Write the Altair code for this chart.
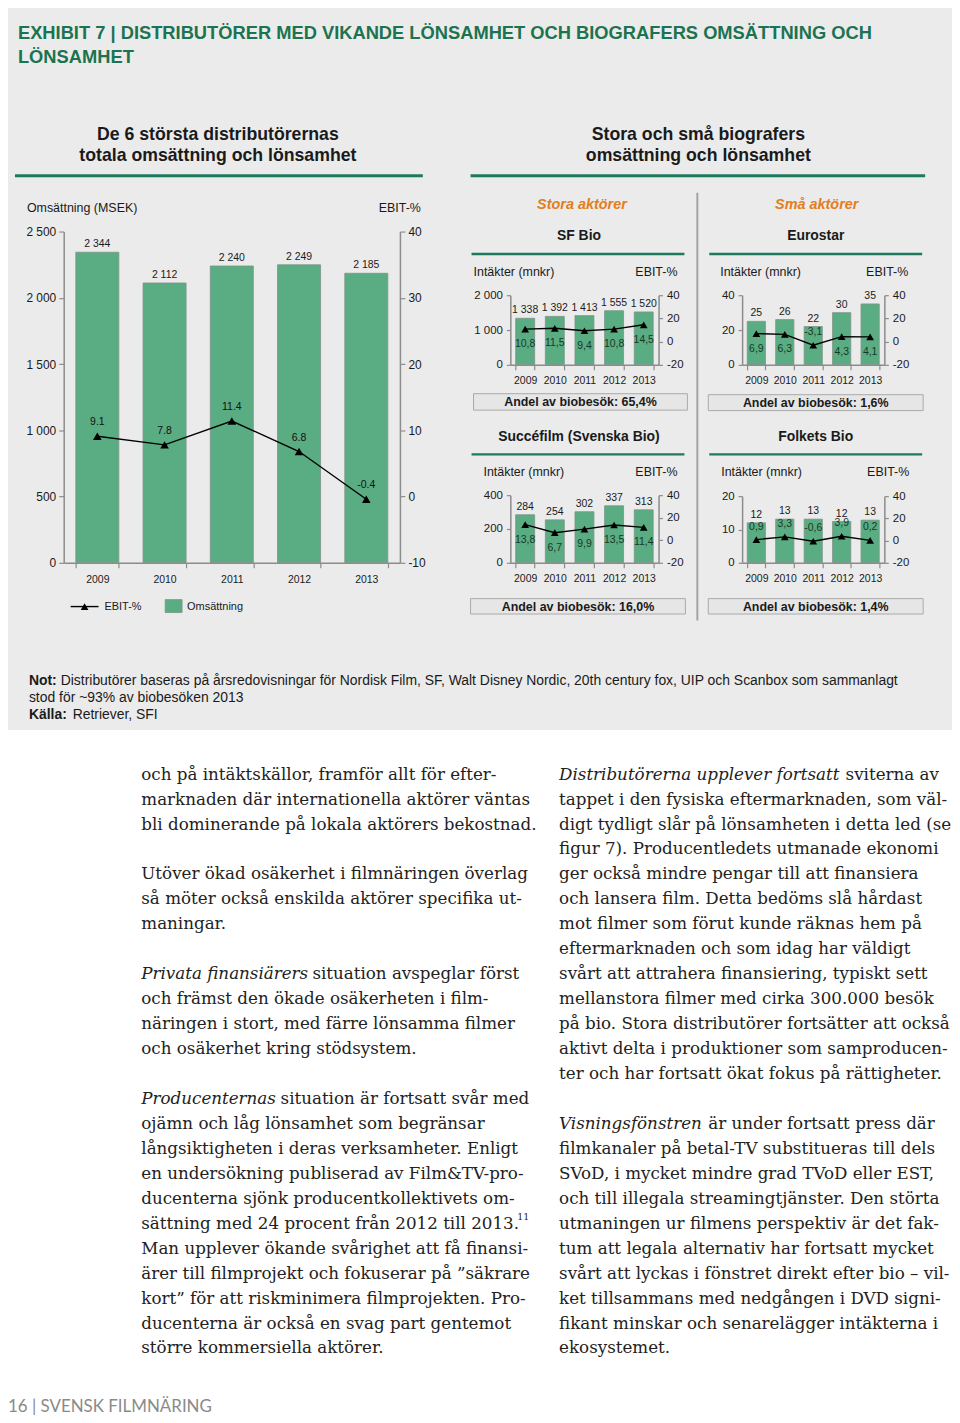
import altair as alt
import pandas as pd

# ---------------------------------------------------------------- data
years = ["2009", "2010", "2011", "2012", "2013"]

dist_revenue = [2344, 2112, 2240, 2249, 2185]
dist_ebit = [9.1, 7.8, 11.4, 6.8, -0.4]

sf_revenue = [1338, 1392, 1413, 1555, 1520]
sf_ebit = [10.8, 11.5, 9.4, 10.8, 14.5]

euro_revenue = [25, 26, 22, 30, 35]
euro_ebit = [6.9, 6.3, -3.1, 4.3, 4.1]

succ_revenue = [284, 254, 302, 337, 313]
succ_ebit = [13.8, 6.7, 9.9, 13.5, 11.4]

folk_revenue = [12.0, 13.1, 13.1, 12.4, 12.8]
folk_ebit = [0.9, 3.3, -0.6, 3.9, 0.2]

dist_rev_ticks = [0, 500, 1000, 1500, 2000, 2500]
dist_ebit_ticks = [-10, 0, 10, 20, 30, 40]
sf_rev_ticks = [0, 1000, 2000]
euro_rev_ticks = [0, 20, 40]
succ_rev_ticks = [0, 200, 400]
folk_rev_ticks = [0, 10, 20]
small_ebit_ticks = [-20, 0, 20, 40]

title_line1 = "EXHIBIT 7 | DISTRIBUTÖRER MED VIKANDE LÖNSAMHET OCH BIOGRAFERS OMSÄTTNING OCH"
title_line2 = "LÖNSAMHET"

left_lines = [
    ("", "och på intäktskällor, framför allt för efter-"),
    ("", "marknaden där internationella aktörer väntas"),
    ("", "bli dominerande på lokala aktörers bekostnad."),
    ("", ""),
    ("", "Utöver ökad osäkerhet i filmnäringen överlag"),
    ("", "så möter också enskilda aktörer specifika ut-"),
    ("", "maningar."),
    ("", ""),
    ("Privata finansiärers", "situation avspeglar först"),
    ("", "och främst den ökade osäkerheten i film-"),
    ("", "näringen i stort, med färre lönsamma filmer"),
    ("", "och osäkerhet kring stödsystem."),
    ("", ""),
    ("Producenternas", "situation är fortsatt svår med"),
    ("", "ojämn och låg lönsamhet som begränsar"),
    ("", "långsiktigheten i deras verksamheter. Enligt"),
    ("", "en undersökning publiserad av Film&TV-pro-"),
    ("", "ducenterna sjönk producentkollektivets om-"),
    ("", "sättning med 24 procent från 2012 till 2013."),
    ("", "Man upplever ökande svårighet att få finansi-"),
    ("", "ärer till filmprojekt och fokuserar på ”säkrare"),
    ("", "kort” för att riskminimera filmprojekten. Pro-"),
    ("", "ducenterna är också en svag part gentemot"),
    ("", "större kommersiella aktörer."),
]
right_lines = [
    ("Distributörerna upplever fortsatt", "sviterna av"),
    ("", "tappet i den fysiska eftermarknaden, som väl-"),
    ("", "digt tydligt slår på lönsamheten i detta led (se"),
    ("", "figur 7). Producentledets utmanade ekonomi"),
    ("", "ger också mindre pengar till att finansiera"),
    ("", "och lansera film. Detta bedöms slå hårdast"),
    ("", "mot filmer som förut kunde räknas hem på"),
    ("", "eftermarknaden och som idag har väldigt"),
    ("", "svårt att attrahera finansiering, typiskt sett"),
    ("", "mellanstora filmer med cirka 300.000 besök"),
    ("", "på bio. Stora distributörer fortsätter att också"),
    ("", "aktivt delta i produktioner som samproducen-"),
    ("", "ter och har fortsatt ökat fokus på rättigheter."),
    ("", ""),
    ("Visningsfönstren", "är under fortsatt press där"),
    ("", "filmkanaler på betal-TV substitueras till dels"),
    ("", "SVoD, i mycket mindre grad TVoD eller EST,"),
    ("", "och till illegala streamingtjänster. Den störta"),
    ("", "utmaningen ur filmens perspektiv är det fak-"),
    ("", "tum att legala alternativ har fortsatt mycket"),
    ("", "svårt att lyckas i fönstret direkt efter bio – vil-"),
    ("", "ket tillsammans med nedgången i DVD signi-"),
    ("", "fikant minskar och senarelägger intäkterna i"),
    ("", "ekosystemet."),
]

# ---------------------------------------------------------------- layout / style
OFF = 8
W, H = 949, 1412


def X(v):
    return v - OFF


def Y(v):
    return v - OFF


SANS = "Liberation Sans, Arial, sans-serif"
NARROW = "Liberation Sans Narrow, Liberation Sans, Arial, sans-serif"
SERIF = "DejaVu Serif, serif"
INK = "#1a1a1a"
GREY_BG = "#ebebeb"
GREEN_T = "#1b7350"
GREEN_L = "#1d7a5f"
ORANGE = "#e27d22"
BAR = "#5aac82"
BAR_EDGE = "#7d9487"
AXC = "#8c8c8c"
BODY_SIZE = 16.8


def T(s, x, y, size, weight="normal", color=INK, align="left", font=SANS, style="normal"):
    return alt.Chart(pd.DataFrame({"t": [s]})).mark_text(
        align=align, baseline="middle", fontSize=size, fontWeight=weight,
        font=font, fontStyle=style, color=color,
    ).encode(x=alt.value(X(x)), y=alt.value(Y(y)), text="t:N")


def R(x0, y0, x1, y1, fill, stroke="transparent", sw=0):
    return alt.Chart(pd.DataFrame({"a": [0]})).mark_rect(
        fill=fill, stroke=stroke, strokeWidth=sw
    ).encode(x=alt.value(X(x0)), x2=alt.value(X(x1)), y=alt.value(Y(y0)), y2=alt.value(Y(y1)))


def HL(x0, x1, y, color, sw):
    return alt.Chart(pd.DataFrame({"a": [0]})).mark_rule(color=color, strokeWidth=sw).encode(
        x=alt.value(X(x0)), x2=alt.value(X(x1)), y=alt.value(Y(y)))


def VL(x, y0, y1, color, sw):
    return alt.Chart(pd.DataFrame({"a": [0]})).mark_rule(color=color, strokeWidth=sw).encode(
        x=alt.value(X(x)), y=alt.value(Y(y0)), y2=alt.value(Y(y1)))


def ax(**kw):
    base = dict(title=None, grid=False, domainColor=AXC, domainWidth=1.5, tickColor=AXC,
                tickWidth=1.2, labelColor=INK, labelFont=SANS, zindex=1)
    base.update(kw)
    return alt.Axis(**base)


THOUSANDS = "replace(format(datum.value, ','), ',', ' ')"
SIGNED = "datum.value < 0 ? '-' + format(-datum.value, 'd') : format(datum.value, 'd')"


def combo(rev, ebit, rev_lbl, ebit_lbl, ebit_pos, box, rev_ticks, eb_ticks, st):
    x0, x1, y0, y1 = box
    df = pd.DataFrame({"year": years, "rev": rev, "ebit": ebit, "rl": rev_lbl,
                       "el": ebit_lbl, "pos": ebit_pos})
    xb = alt.Scale(type="band", domain=years, range=[X(x0), X(x1)], paddingInner=0.36, paddingOuter=0.18)
    xp = alt.Scale(type="point", domain=years, range=[X(x0), X(x1)], padding=0.5)
    yr = alt.Scale(domain=[rev_ticks[0], rev_ticks[-1]], range=[Y(y0), Y(y1)], nice=False)
    ye = alt.Scale(domain=[eb_ticks[0], eb_ticks[-1]], range=[Y(y0), Y(y1)], nice=False, zero=False)
    base = alt.Chart(df)
    bars = base.mark_bar(fill=BAR, stroke=BAR_EDGE, strokeWidth=0.8).encode(
        x=alt.X("year:N", scale=xb, axis=ax(orient="bottom", offset=-(H - Y(y0)), tickBand="extent",
                                          labelAngle=0, labelFontSize=st["xl"], tickSize=5,
                                          labelPadding=st["xpad"])),
        y=alt.Y("rev:Q", scale=yr, axis=ax(orient="left", offset=-X(x0), values=rev_ticks,
                                          labelFontSize=st["yl"], tickSize=st["tick"],
                                          labelPadding=st["ypad"], labelExpr=THOUSANDS)),
    )
    line = base.mark_line(color="black", strokeWidth=1.4).encode(
        x=alt.X("year:N", scale=xp, axis=None),
        y=alt.Y("ebit:Q", scale=ye, axis=ax(orient="right", offset=-(W - X(x1)), values=eb_ticks,
                                           labelFontSize=st["yl"], tickSize=st["tick"],
                                           labelPadding=st["ypad"], labelExpr=SIGNED)),
    )
    rl = base.mark_text(dy=-st["rdy"], fontSize=st["rlf"], font=SANS, color=INK).encode(
        x=alt.X("year:N", scale=xp, axis=None),
        y=alt.Y("rev:Q", scale=yr, axis=None), text="rl:N")
    pts = base.mark_point(shape="triangle-up", filled=True, size=st["ms"], color="black", opacity=1).encode(
        x=alt.X("year:N", scale=xp, axis=None),
        y=alt.Y("ebit:Q", scale=ye, axis=None))
    above = base.transform_filter("datum.pos == 'above'").mark_text(
        dy=-st["edy_a"], fontSize=st["elf"], font=SANS, color=st["ec"]).encode(
        x=alt.X("year:N", scale=xp, axis=None),
        y=alt.Y("ebit:Q", scale=ye, axis=None), text="el:N")
    below = base.transform_filter("datum.pos == 'below'").mark_text(
        dy=st["edy_b"], fontSize=st["elf"], font=SANS, color=st["ec"]).encode(
        x=alt.X("year:N", scale=xp, axis=None),
        y=alt.Y("ebit:Q", scale=ye, axis=None), text="el:N")
    return [bars, line, pts, rl, above, below]


def thous(v):
    return f"{v:,}".replace(",", " ")


def comma1(v):
    return f"{v:.1f}".replace(".", ",")


def body(lines, x_start, rest_x, y_first, step):
    reg, ita = [], []
    for i, (it, rg) in enumerate(lines):
        if it:
            ita.append({"i": i, "x": X(x_start), "t": it})
        if rg:
            reg.append({"i": i, "x": X(rest_x.get(i, x_start)), "t": rg})
    n = len(lines) - 1
    ys = alt.Scale(domain=[0, n], range=[Y(y_first), Y(y_first + step * n)], nice=False, zero=False)
    out = []
    for rows, style in ((reg, "normal"), (ita, "italic")):
        out.append(alt.Chart(pd.DataFrame(rows)).mark_text(
            align="left", baseline="middle", font=SERIF, fontSize=BODY_SIZE, fontStyle=style, color="#222222"
        ).encode(x=alt.X("x:Q", scale=None, axis=None), y=alt.Y("i:Q", scale=ys, axis=None), text="t:N"))
    return out


layers = []
# background panel
layers.append(R(0, 3, 957, 730, GREY_BG))

# exhibit title
layers.append(T(title_line1, 18, 29, 18.4, "bold", GREEN_T, font=NARROW))
layers.append(T(title_line2, 18, 54, 18.4, "bold", GREEN_T, font=NARROW))

# section headers
layers.append(T("De 6 största distributörernas", 219, 132, 17.8, "bold", INK, "center"))
layers.append(T("totala omsättning och lönsamhet", 219, 153, 17.8, "bold", INK, "center"))
layers.append(T("Stora och små biografers", 702, 132, 17.8, "bold", INK, "center"))
layers.append(T("omsättning och lönsamhet", 702, 153, 17.8, "bold", INK, "center"))
layers.append(HL(15, 425, 173, GREEN_L, 3))
layers.append(HL(473, 930, 173, GREEN_L, 3))
layers.append(VL(701, 190, 620, "#a3a3a3", 2))

layers.append(T("Stora aktörer", 585, 202, 14.5, "bold", ORANGE, "center", style="italic"))
layers.append(T("Små aktörer", 821, 202, 14.5, "bold", ORANGE, "center", style="italic"))

# panel titles + underlines
for name, cxp, cy_, x0, x1, ly in [("SF Bio", 582, 233, 474, 688, 251.5),
                                   ("Eurostar", 820, 233, 713, 927, 251.5),
                                   ("Succéfilm (Svenska Bio)", 582, 436, 474, 688, 453),
                                   ("Folkets Bio", 820, 436, 713, 927, 453)]:
    layers.append(T(name, cxp, cy_, 14, "bold", INK, "center"))
    layers.append(HL(x0, x1, ly, GREEN_L, 2.5))

# share boxes
for txt_, x0, y0, x1, y1 in [("Andel av biobesök: 65,4%", 476, 392, 691, 408.5),
                             ("Andel av biobesök: 1,6%", 712, 393, 928, 409),
                             ("Andel av biobesök: 16,0%", 473, 598, 689, 613.5),
                             ("Andel av biobesök: 1,4%", 712, 598, 928, 613.5)]:
    layers.append(R(x0, y0, x1, y1, "#e6e6e6", "#a9a9a9", 1))
    layers.append(T(txt_, (x0 + x1) / 2, (y0 + y1) / 2 + 0.5, 12.5, "bold", INK, "center"))

# axis titles
layers.append(T("Omsättning (MSEK)", 27, 205, 12.5))
layers.append(T("EBIT-%", 423, 205, 12.5, align="right"))
for x0, x1, y in [(476, 681, 270), (724, 913, 270), (486, 681, 471), (725, 914, 471)]:
    layers.append(T("Intäkter (mnkr)", x0, y, 12.5))
    layers.append(T("EBIT-%", x1, y, 12.5, align="right"))

# main chart
main_style = dict(xl=10.5, xpad=7, yl=12, tick=5, ypad=3, rdy=8, rlf=10.5, ms=75,
                  edy_a=14, edy_b=14, elf=10.5, ec="#111111")
layers += combo(dist_revenue, dist_ebit, [thous(v) for v in dist_revenue],
                [f"{v:.1f}" for v in dist_ebit], ["above"] * 5,
                (64, 402, 562, 229), dist_rev_ticks, dist_ebit_ticks, main_style)

small_style = dict(xl=10.5, xpad=6, yl=11.5, tick=4, ypad=4, rdy=8, rlf=10.5, ms=60,
                   edy_a=13, edy_b=15, elf=10.5, ec="#143a26")
layers += combo(sf_revenue, sf_ebit, [thous(v) for v in sf_revenue],
                [comma1(v) for v in sf_ebit], ["below"] * 5,
                (513, 662, 363, 293), sf_rev_ticks, small_ebit_ticks, small_style)
layers += combo(euro_revenue, euro_ebit, [str(round(v)) for v in euro_revenue],
                [comma1(v) for v in euro_ebit], ["below", "below", "above", "below", "below"],
                (746, 889, 363, 293), euro_rev_ticks, small_ebit_ticks, small_style)
layers += combo(succ_revenue, succ_ebit, [str(round(v)) for v in succ_revenue],
                [comma1(v) for v in succ_ebit], ["below"] * 5,
                (513, 662, 562, 494), succ_rev_ticks, small_ebit_ticks, small_style)
layers += combo(folk_revenue, folk_ebit, [str(round(v)) for v in folk_revenue],
                [comma1(v) for v in folk_ebit], ["above"] * 5,
                (746, 889, 562, 495), folk_rev_ticks, small_ebit_ticks, small_style)

# legend of main chart
layers.append(HL(71, 99, 606, "black", 1.4))
layers.append(alt.Chart(pd.DataFrame({"a": [0]})).mark_point(
    shape="triangle-up", filled=True, size=60, color="black", opacity=1).encode(
    x=alt.value(X(85)), y=alt.value(Y(606))))
layers.append(T("EBIT-%", 105, 606.5, 11))
layers.append(R(166, 599, 183, 612, BAR, BAR_EDGE, 0.8))
layers.append(T("Omsättning", 188, 606.5, 11))

# notes
layers.append(T("Not:", 29, 681, 14, "bold"))
layers.append(T("Distributörer baseras på årsredovisningar för Nordisk Film, SF, Walt Disney Nordic, 20th century fox, UIP och Scanbox som sammanlagt",
                61, 681, 14))
layers.append(T("stod för ~93% av biobesöken 2013", 29, 698, 14))
layers.append(T("Källa:", 29, 715, 14, "bold"))
layers.append(T("Retriever, SFI", 73, 715, 14))

# body text
layers += body(left_lines, 142, {8: 314, 13: 282}, 775, 25.08)
layers += body(right_lines, 562, {0: 850, 14: 712}, 775, 25.08)
layers.append(T("11", 520, 1220, 9.5, color="#222222", font=SERIF))

# footer
layers.append(T("16 | SVENSK FILMNÄRING", 8, 1411, 17, color="#8a8a8a", font="Lato, Open Sans, sans-serif"))

chart = alt.layer(*layers).resolve_scale(
    x="independent", y="independent"
).resolve_axis(
    x="independent", y="independent"
).properties(
    width=W, height=H, padding=0, background="white",
    autosize=alt.AutoSizeParams(type="none"),
).configure_view(strokeWidth=0)

chart.save("out.html", embed_options={"renderer": "svg", "actions": False})
